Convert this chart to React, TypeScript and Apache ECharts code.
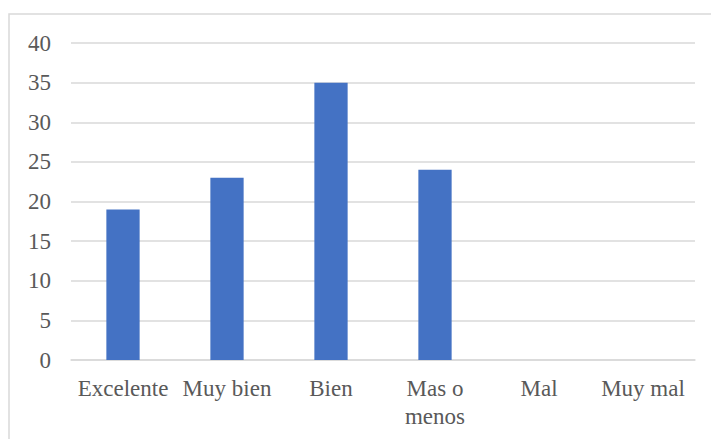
import React, { useEffect, useRef } from "react";
import * as echarts from "echarts";

const categories = ["Excelente", "Muy bien", "Bien", "Mas o menos", "Mal", "Muy mal"];
const values = [19, 23, 35, 24, 0, 0];
const yTicks = { min: 0, max: 40, interval: 5 };

const FONT = "Times New Roman, Liberation Serif, serif";
const TEXT = "#595959";
const GRID = "#d9d9d9";

export default function App() {
  const ref = useRef<HTMLDivElement>(null);
  useEffect(() => {
    if (!ref.current) return;
    const chart = echarts.init(ref.current, null, { renderer: "svg" });
    chart.setOption({
      animation: false,
      backgroundColor: "#ffffff",
      textStyle: { fontFamily: FONT },
      grid: { left: 71, right: 16, top: 43, bottom: 79 },
      graphic: [
        {
          type: "rect",
          shape: { x: 9, y: 14, width: 720, height: 460 },
          style: { fill: "none", stroke: "#d9d9d9", lineWidth: 1.5 },
          silent: true,
        },
      ],
      xAxis: {
        type: "category",
        data: categories,
        axisTick: { show: false },
        axisLine: { show: true, lineStyle: { color: GRID, width: 1.5 } },
        axisLabel: {
          interval: 0,
          margin: 14,
          color: TEXT,
          fontFamily: FONT,
          fontSize: 23,
          lineHeight: 28,
          formatter: (v: string) => {
            if (v.length > 9) {
              const i = v.lastIndexOf(" ");
              return v.slice(0, i) + "\n" + v.slice(i + 1);
            }
            return v;
          },
        },
      },
      yAxis: {
        type: "value",
        min: yTicks.min,
        max: yTicks.max,
        interval: yTicks.interval,
        axisLine: { show: false },
        axisTick: { show: false },
        splitLine: { lineStyle: { color: GRID, width: 1.5 } },
        axisLabel: {
          margin: 20,
          color: TEXT,
          fontFamily: FONT,
          fontSize: 23,
        },
      },
      series: [
        {
          type: "bar",
          data: values,
          barWidth: "32%",
          itemStyle: { color: "#4472C4" },
        },
      ],
    });
    return () => chart.dispose();
  }, []);
  return (
    <div
      ref={ref}
      style={{ position: "fixed", left: 0, top: 0, width: 711, height: 439 }}
    />
  );
}
